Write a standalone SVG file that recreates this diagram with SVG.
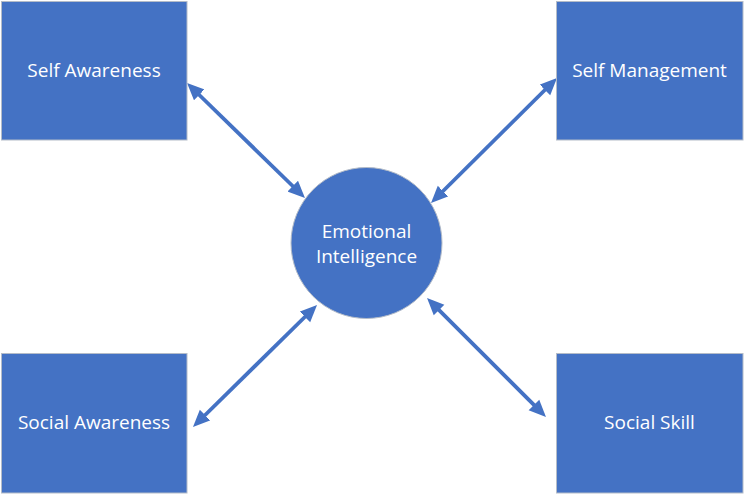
<svg xmlns="http://www.w3.org/2000/svg" width="745" height="495" viewBox="0 0 745 495">
<style>
.box{fill:#4472C4;stroke:#B4BCC8;stroke-width:1}
.lbl{fill:#FFFFFF;font-family:"Open Sans","Noto Sans","Liberation Sans",sans-serif;font-size:19px;text-anchor:middle}
.con{stroke:#4472C4;stroke-width:3.8;fill:none;marker-start:url(#ah);marker-end:url(#ah)}
</style>
<defs>
<marker id="ah" markerUnits="userSpaceOnUse" markerWidth="18" markerHeight="16" refX="7" refY="8" orient="auto-start-reverse" viewBox="0 0 18 16">
<path d="M0,0.5 L17,8 L0,15.5 z" fill="#4472C4"/>
</marker>
</defs>
<rect width="745" height="495" fill="#FFFFFF"/>
<g id="connectors">
<line class="con" x1="194.2" y1="90.0" x2="297.8" y2="191.0"/>
<line class="con" x1="438.1" y1="196.0" x2="549.9" y2="85.0"/>
<line class="con" x1="200.1" y1="420.0" x2="309.9" y2="312.0"/>
<line class="con" x1="434.1" y1="305.1" x2="538.9" y2="409.9"/>
</g>
<g id="self-awareness">
<rect class="box" x="1.5" y="1.5" width="185.5" height="138.5"/>
<text class="lbl" x="94" y="77">Self Awareness</text>
</g>
<g id="self-management">
<rect class="box" x="556.5" y="1.5" width="186.5" height="138.5"/>
<text class="lbl" x="649.5" y="77">Self Management</text>
</g>
<g id="social-awareness">
<rect class="box" x="1.5" y="353.5" width="185.5" height="139.5"/>
<text class="lbl" x="94" y="429">Social Awareness</text>
</g>
<g id="social-skill">
<rect class="box" x="556.5" y="353.5" width="186.5" height="139.5"/>
<text class="lbl" x="649.5" y="429">Social Skill</text>
</g>
<g id="emotional-intelligence">
<circle class="box" cx="366.5" cy="243" r="75.5"/>
<text class="lbl" x="366.5" y="238">Emotional</text>
<text class="lbl" x="366.5" y="263">Intelligence</text>
</g>
</svg>
